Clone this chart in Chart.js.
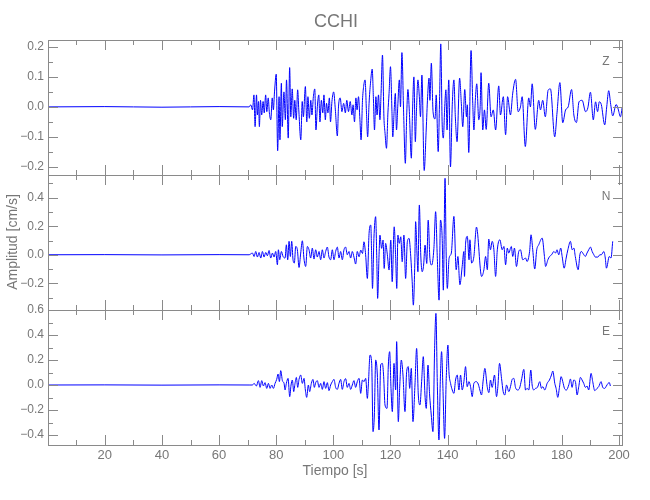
<!DOCTYPE html>
<html>
<head>
<meta charset="utf-8">
<script src="https://cdn.jsdelivr.net/npm/chart.js@4.4.0/dist/chart.umd.min.js"></script>
<style>
  html, body { margin: 0; padding: 0; background: #fff; }
  #wrap { position: relative; width: 650px; height: 500px; }
  #wrap canvas { position: absolute; left: 0; top: 0; }
</style>
</head>
<body>
<div id="wrap">
  <canvas id="pz" width="650" height="500"></canvas>
  <canvas id="pn" width="650" height="500"></canvas>
  <canvas id="pe" width="650" height="500"></canvas>
</div>
<script>
// axis ticks
const xMajor = [20, 40, 60, 80, 100, 120, 140, 160, 180, 200];
const zTicks = [-0.2, -0.1, 0, 0.1, 0.2];
const nTicks = [-0.2, 0, 0.2, 0.4];
const eTicks = [-0.4, -0.2, 0, 0.2, 0.4, 0.6];

// component Z (time s, amplitude cm/s)
const zTime = [0.1, 20, 40, 60, 70.5, 71.1, 71.7, 72.2, 72.6, 73.1, 73.4, 73.8, 74.1, 74.5, 74.9, 75.4, 75.8, 76.3, 76.7, 77.2, 77.6, 78.1, 78.6, 79.0, 79.4, 80.0, 80.5, 81.0, 81.3, 81.8, 82.1, 82.7, 83.2, 83.6, 84.2, 84.7, 85.1, 85.6, 86.1, 86.5, 87.0, 87.5, 87.9, 88.6, 89.1, 89.5, 90.2, 90.7, 91.1, 91.6, 92.1, 92.5, 93.0, 93.5, 93.9, 94.4, 94.9, 95.3, 95.8, 96.3, 96.7, 97.2, 97.6, 98.1, 98.6, 99.0, 99.5, 100.1, 100.7, 101.4, 101.8, 102.4, 103.0, 103.6, 104.2, 104.7, 105.3, 105.9, 106.5, 106.9, 107.4, 107.9, 108.3, 108.8, 109.3, 109.7, 110.2, 110.6, 111.1, 111.6, 112.0, 112.5, 113.0, 113.6, 114.0, 114.4, 114.9, 115.3, 115.8, 116.3, 116.7, 117.2, 117.7, 118.1, 118.6, 119.1, 119.5, 120.0, 120.5, 120.8, 121.3, 121.7, 122.1, 122.6, 123.1, 123.5, 124.0, 124.6, 125.2, 125.7, 126.1, 126.6, 127.3, 127.7, 128.2, 128.7, 129.1, 129.6, 130.1, 130.5, 131.0, 131.8, 132.5, 133.0, 133.5, 133.8, 134.3, 134.9, 135.6, 136.0, 136.7, 137.2, 137.6, 138.1, 138.5, 139.0, 139.4, 139.8, 140.4, 141.0, 141.6, 142.2, 142.7, 143.3, 144.2, 144.8, 145.3, 146.0, 146.6, 146.9, 147.4, 148.2, 148.8, 149.2, 149.7, 150.2, 150.9, 151.4, 151.7, 152.3, 152.9, 153.5, 154.4, 155.2, 156.0, 156.8, 157.9, 158.5, 159.5, 160.3, 161.0, 162.0, 162.8, 163.8, 164.7, 165.5, 166.1, 167.2, 168.4, 169.0, 169.6, 170.7, 171.9, 172.5, 173.3, 174.2, 175.2, 176.0, 177.5, 178.3, 179.3, 180.3, 181.3, 182.2, 183.4, 184.2, 185.1, 186.0, 187.1, 188.3, 189.1, 190.0, 191.0, 191.8, 192.5, 193.1, 193.8, 195.0, 195.7, 196.4, 197.1, 197.8, 199.0, 199.7, 200.5, 201.1];
const zAmp = [0, 0.001, -0.001, 0.001, 0, 0.007, -0.01, 0.04, -0.066, 0.04, -0.027, 0.018, -0.066, 0.022, -0.027, 0.018, -0.02, 0.04, -0.016, 0.03, -0.02, -0.043, 0.03, -0.01, 0.05, 0.109, -0.146, 0.034, -0.11, 0.079, -0.066, 0.05, -0.043, 0.09, -0.104, 0.131, -0.033, 0.06, -0.038, 0.022, -0.043, 0.057, -0.01, -0.11, 0.018, -0.033, 0.068, -0.05, 0.034, -0.038, 0.022, -0.027, 0.034, 0.06, -0.077, 0.002, 0.04, -0.05, 0.022, -0.02, 0.04, -0.043, 0.012, -0.02, 0.03, -0.05, 0.018, 0.05, -0.01, -0.097, 0, 0.03, -0.016, 0.012, -0.02, 0.022, -0.016, 0.018, -0.027, 0.007, -0.05, 0.03, -0.01, 0.034, -0.043, -0.11, 0.022, 0.068, 0.09, -0.02, -0.1, 0.012, 0.079, 0.126, 0.034, -0.077, 0.034, -0.027, 0.04, -0.043, 0.045, 0.173, -0.033, -0.088, -0.138, -0.02, 0.045, 0.134, -0.01, -0.1, -0.01, 0.045, -0.077, 0.012, 0.09, 0, 0.181, -0.02, -0.188, -0.02, 0.058, -0.016, -0.171, -0.02, 0.1, -0.116, -0.01, 0.09, 0.034, -0.033, 0.106, -0.212, -0.077, 0.034, 0.096, 0.022, 0.146, -0.016, -0.04, 0.04, -0.149, 0.034, 0.21, -0.06, -0.104, 0.002, 0.057, -0.077, 0.09, -0.2, 0, 0.09, -0.033, -0.116, 0.096, 0.012, -0.066, 0.058, -0.033, 0.007, -0.152, 0.188, 0.012, -0.077, 0.022, 0.077, -0.043, 0.002, 0.114, -0.077, -0.01, -0.075, 0.079, -0.033, -0.01, -0.077, 0.07, -0.027, 0.034, -0.093, 0.034, -0.027, 0.046, 0.092, -0.016, 0, 0.034, -0.132, 0.03, 0, 0.077, -0.075, 0.022, -0.01, 0.022, -0.033, 0.056, 0.06, -0.1, -0.02, 0.081, -0.053, -0.01, 0, 0.058, -0.027, -0.052, 0.017, 0.022, -0.016, -0.003, 0.049, -0.043, 0.017, -0.016, 0.017, 0.008, -0.06, 0, 0.054, 0.008, -0.03, 0.008, -0.007, -0.033, -0.003];

// component N
const nTime = [0.1, 20, 40, 60, 70.5, 71.67, 72.25, 72.83, 73.41, 74.0, 74.58, 75.16, 75.74, 76.33, 76.91, 77.49, 78.08, 78.66, 79.24, 79.82, 80.41, 80.76, 81.22, 81.81, 82.39, 83.09, 83.55, 84.02, 84.49, 84.95, 85.42, 85.88, 86.35, 86.82, 87.4, 87.98, 88.57, 89.15, 89.73, 90.31, 90.9, 91.48, 92.06, 92.64, 93.23, 93.81, 94.39, 94.98, 95.56, 96.14, 96.72, 97.31, 97.89, 98.47, 99.05, 99.64, 100.22, 100.8, 101.39, 101.97, 102.55, 103.13, 103.72, 104.3, 104.88, 105.47, 106.05, 106.63, 107.21, 107.8, 108.38, 109.0, 109.6, 110.2, 110.7, 111.3, 111.9, 112.5, 113.1, 113.4, 113.7, 114.2, 114.8, 115.2, 115.5, 116.0, 116.3, 116.9, 117.4, 117.8, 118.3, 118.9, 119.5, 120.1, 120.6, 121.3, 121.8, 122.2, 122.6, 123.1, 123.6, 124.1, 124.7, 125.3, 125.9, 126.5, 127.1, 127.6, 128.0, 128.5, 128.8, 129.3, 129.6, 130.1, 130.6, 131.1, 131.6, 132.1, 132.7, 133.2, 133.8, 134.4, 135.2, 135.8, 136.4, 137.0, 137.5, 138.1, 138.5, 139.1, 139.5, 139.9, 140.5, 141.3, 142.2, 143.0, 143.6, 144.3, 145.1, 145.7, 145.9, 146.3, 146.9, 147.5, 147.8, 148.4, 149.2, 150.1, 151.9, 152.7, 153.3, 153.9, 154.4, 155.0, 155.6, 156.2, 156.8, 157.4, 158.3, 159.1, 159.7, 160.3, 160.9, 161.4, 162.3, 162.8, 163.4, 164.1, 164.9, 165.5, 166.3, 167.3, 167.8, 168.7, 169.2, 169.8, 170.5, 171.2, 171.9, 173.1, 173.9, 174.3, 175.1, 175.7, 176.4, 177.2, 177.8, 178.3, 178.9, 179.6, 180.1, 180.8, 181.5, 182.1, 183.0, 183.6, 184.2, 184.7, 185.7, 186.3, 186.8, 187.7, 188.2, 188.8, 189.4, 190.0, 190.6, 191.2, 191.7, 192.6, 193.3, 193.8, 194.7, 195.2, 195.6, 196.6, 197.2, 197.8];
const nAmp = [0, 0.001, -0.001, 0.001, 0, 0.012, -0.012, 0.023, -0.016, 0.016, -0.023, 0.023, -0.016, 0.016, -0.007, 0.03, -0.023, 0.012, -0.016, 0.023, -0.07, 0.035, -0.035, 0.023, -0.012, -0.023, 0.07, -0.035, 0.094, -0.012, 0.094, -0.035, -0.058, 0.058, 0.035, -0.089, 0.012, 0.098, -0.03, -0.082, 0.058, 0.035, -0.023, 0.047, -0.03, 0.035, -0.016, 0.023, -0.035, 0.035, -0.023, 0.023, 0.054, -0.016, -0.035, 0.035, -0.035, 0.023, 0.054, -0.023, 0.023, -0.035, 0.035, 0.054, 0, 0.023, -0.023, 0.023, -0.016, -0.065, 0.023, -0.014, 0.033, 0.009, 0.091, 0, -0.166, 0.15, 0.208, 0, -0.236, 0.115, 0.267, -0.026, -0.306, 0, 0.138, 0.045, 0.103, -0.096, 0.08, 0, -0.107, 0.103, -0.189, 0.196, -0.014, -0.236, 0.138, 0.08, 0.126, -0.049, 0.138, -0.166, 0.091, 0.115, -0.014, -0.189, -0.353, -0.072, 0.232, -0.002, -0.119, 0.349, -0.002, -0.119, -0.072, 0.068, -0.061, 0.243, -0.026, -0.072, 0.045, 0.302, -0.026, -0.318, 0.243, 0.115, -0.248, 0.536, -0.002, -0.236, -0.026, 0.012, 0.269, -0.105, -0.012, -0.21, -0.082, 0.023, -0.152, 0.082, 0.129, -0.035, 0.105, -0.058, -0.012, 0.194, -0.152, -0.105, -0.012, -0.105, 0.11, 0.035, 0.094, 0.035, -0.152, 0.035, 0.105, 0.035, 0.058, -0.07, 0.047, 0.012, 0.058, -0.012, 0.047, -0.082, 0.023, 0.035, -0.035, -0.023, -0.047, 0.023, 0.14, 0.035, -0.1, 0.035, 0.07, 0.117, -0.012, -0.082, -0.035, -0.012, 0, 0.023, 0.012, 0.035, 0, 0.047, -0.012, -0.094, -0.023, 0.035, 0.094, 0.035, 0.047, -0.012, -0.105, 0, 0.023, 0, -0.012, 0.012, 0.035, 0.054, 0.023, 0, -0.016, -0.016, 0, 0, 0.023, -0.023, -0.094, -0.012, -0.023, 0.094];

// component E
const eTime = [0.1, 20, 40, 60, 70.5, 71.67, 72.25, 73.06, 73.76, 74.35, 74.93, 75.51, 76.09, 76.68, 77.26, 77.84, 78.43, 79.01, 79.59, 80.17, 80.64, 81.11, 81.57, 82.16, 82.74, 83.09, 83.55, 84.14, 84.72, 85.19, 85.65, 86.12, 86.58, 87.05, 87.52, 87.98, 88.57, 89.15, 89.73, 90.2, 90.66, 91.25, 91.71, 92.29, 92.88, 93.34, 93.81, 94.39, 94.98, 95.56, 96.14, 96.72, 97.31, 97.89, 98.47, 99.05, 99.64, 100.22, 100.8, 101.39, 101.97, 102.55, 103.13, 103.72, 104.3, 104.88, 105.47, 106.05, 106.63, 107.21, 107.8, 108.38, 109.0, 109.57, 110.16, 110.74, 111.32, 111.9, 112.25, 112.84, 113.42, 113.89, 114.35, 114.82, 115.4, 115.98, 116.57, 117.15, 117.61, 118.08, 118.78, 119.25, 119.71, 120.18, 120.64, 121.23, 121.81, 122.16, 122.74, 123.21, 123.79, 124.37, 125.07, 125.66, 126.24, 126.71, 127.29, 127.87, 128.57, 129.15, 129.74, 130.32, 130.9, 131.48, 132.07, 132.53, 133.12, 133.7, 134.28, 134.86, 135.45, 135.91, 136.38, 136.96, 137.43, 137.89, 138.36, 138.94, 139.52, 140.11, 140.46, 141.04, 141.62, 142.2, 142.78, 143.37, 143.95, 144.53, 145.11, 145.7, 146.28, 146.86, 147.45, 148.03, 148.61, 149.19, 150.01, 150.71, 151.29, 151.87, 152.46, 153.04, 153.86, 154.44, 155.02, 155.6, 156.42, 157.12, 157.59, 158.17, 158.87, 159.45, 160.03, 160.62, 161.43, 162.01, 162.6, 163.18, 163.76, 164.46, 165.16, 165.86, 166.68, 167.26, 167.84, 168.42, 169.12, 169.59, 170.17, 170.76, 171.45, 172.27, 172.85, 173.32, 174.02, 174.84, 175.65, 176.35, 176.82, 177.52, 177.98, 178.57, 179.15, 179.73, 180.31, 180.9, 181.6, 182.41, 182.99, 183.58, 184.16, 184.74, 185.33, 185.91, 186.49, 187.07, 187.66, 188.24, 188.82, 189.4, 190.22, 190.8, 191.5, 192.32, 192.9, 193.72, 194.3, 195.0, 195.58, 196.16, 196.63, 196.98];
const eAmp = [0, 0.001, -0.001, 0.001, 0, 0, 0.013, -0.008, 0.035, -0.019, 0.035, -0.008, 0.019, -0.027, 0.013, -0.027, 0, -0.027, 0.013, 0.045, 0.088, 0.027, 0.115, 0.035, 0.013, -0.04, 0.013, 0.053, -0.093, 0, 0.04, -0.053, 0.013, 0.061, -0.019, 0.045, 0.08, 0.013, 0.053, -0.04, -0.099, 0, -0.053, 0.013, 0.045, -0.019, 0.019, 0.035, -0.019, 0.013, -0.035, 0.027, -0.027, 0.019, -0.045, 0, 0.027, 0.045, -0.019, -0.035, 0.013, 0.045, -0.035, 0.027, 0.051, -0.019, 0.013, -0.035, 0, 0.035, -0.019, 0.027, 0.053, -0.067, 0.04, 0.027, 0.053, -0.107, 0, 0.24, 0.173, -0.373, -0.24, 0.2, 0.08, -0.36, 0.16, 0.173, 0.067, -0.16, -0.187, 0.16, 0.267, -0.027, -0.213, 0.173, -0.04, 0.347, -0.293, -0.027, 0.2, 0.08, -0.213, 0.107, 0.147, -0.027, 0.133, -0.293, 0, 0.293, -0.08, -0.16, 0.027, 0.227, -0.08, -0.187, 0.16, -0.08, -0.24, -0.373, 0.293, 0.573, 0.027, -0.44, 0.027, 0.267, -0.027, -0.427, 0.053, 0.32, 0.107, 0.013, -0.04, -0.067, 0.04, 0.08, -0.04, 0.08, -0.04, 0.027, 0.147, -0.013, 0.027, -0.013, -0.093, 0.013, 0.027, 0.008, -0.04, -0.08, 0.04, 0.133, -0.013, -0.061, 0.04, -0.019, 0.08, -0.093, -0.013, 0.173, 0.053, -0.053, -0.08, 0, -0.053, -0.013, 0.045, 0.053, -0.019, -0.04, -0.027, 0.04, 0.125, -0.04, -0.027, -0.04, 0.12, 0, -0.04, -0.027, -0.019, 0.027, -0.027, -0.013, -0.04, 0.013, 0.04, 0.08, 0.112, 0.013, -0.027, -0.099, -0.019, 0.067, 0.027, -0.027, -0.04, 0, 0.048, -0.019, 0.04, 0.027, -0.08, -0.013, 0.061, 0.04, 0.013, -0.019, -0.008, -0.04, 0.093, 0.027, -0.045, -0.027, -0.013, 0.027, -0.019, -0.027, -0.008, 0.013, 0.019, -0.008];

const AXIS = '#8a8a8a';
const TEXT = '#777777';
const FONT = '"Liberation Sans Narrow", "Liberation Sans", sans-serif';
const X_MIN = 0.1, X_MAX = 201.4;
const LEFT = 48, RIGHT = 623, BOTTOM_AXIS = 55;

const fmt = v => (Math.abs(v) < 1e-9 ? '0.0' : v.toFixed(1).replace('-', '\u2212'));

// frame, inward ticks (major + minor) and free text
const frame = {
  id: 'frame',
  afterDraw(chart, args, o) {
    const { ctx, chartArea: a } = chart;
    const x = chart.scales.x, y = chart.scales.y;
    ctx.save();
    ctx.strokeStyle = AXIS;
    ctx.lineWidth = 1;
    ctx.strokeRect(a.left + 0.5, a.top + 0.5, a.right - a.left - 1, a.bottom - a.top);

    const vline = (px, y0, y1) => { ctx.moveTo(Math.round(px) + 0.5, y0); ctx.lineTo(Math.round(px) + 0.5, y1); };
    const hline = (py, x0, x1) => { ctx.moveTo(x0, Math.round(py) + 0.5); ctx.lineTo(x1, Math.round(py) + 0.5); };
    ctx.beginPath();
    xMajor.forEach(v => {
      const px = x.getPixelForValue(v);
      vline(px, a.top, a.top + 10); vline(px, a.bottom, a.bottom - 10);
      const pm = x.getPixelForValue(v - 10);
      vline(pm, a.top, a.top + 5); vline(pm, a.bottom, a.bottom - 5);
    });
    const t = o.ticks, step = t[1] - t[0];
    const minor = [t[0] - step / 2, ...t.map(v => v + step / 2)].filter(v => v > y.min && v < y.max);
    t.forEach(v => {
      const py = y.getPixelForValue(v);
      hline(py, a.left, a.left + 10); hline(py, a.right, a.right - 10);
    });
    minor.forEach(v => {
      const py = y.getPixelForValue(v);
      hline(py, a.left, a.left + 5); hline(py, a.right, a.right - 5);
    });
    ctx.stroke();

    ctx.fillStyle = TEXT;
    ctx.textAlign = 'center';
    ctx.textBaseline = 'middle';
    ctx.font = '12px ' + FONT;
    ctx.fillText(o.letter, a.right - 17, a.top + 22);
    (o.texts || []).forEach(s => {
      ctx.save();
      ctx.font = s.size + 'px ' + FONT;
      ctx.translate(s.x, s.y);
      if (s.rot) ctx.rotate(s.rot);
      ctx.fillText(s.text, 0, 0);
      ctx.restore();
    });
    ctx.restore();
  }
};

function panel(id, time, amp, yMin, yMax, yTicks, top, bottom, letter, showX, texts) {
  return new Chart(document.getElementById(id), {
    type: 'line',
    data: {
      datasets: [{
        data: time.map((t, i) => ({ x: t, y: amp[i] })),
        borderColor: '#0000ff',
        borderWidth: 1,
        pointRadius: 0,
        cubicInterpolationMode: 'monotone',
        fill: false
      }]
    },
    options: {
      responsive: false,
      animation: false,
      devicePixelRatio: 1,
      events: [],
      layout: { padding: { left: 0, right: 650 - RIGHT, top: top, bottom: showX ? 0 : 500 - bottom } },
      plugins: {
        legend: { display: false },
        tooltip: { enabled: false },
        frame: { ticks: yTicks, letter: letter, texts: texts }
      },
      scales: {
        x: {
          type: 'linear', min: X_MIN, max: X_MAX,
          display: showX,
          afterBuildTicks: s => { s.ticks = xMajor.map(v => ({ value: v })); },
          afterFit: s => { s.height = showX ? BOTTOM_AXIS : 0; },
          grid: { display: false, drawTicks: false },
          border: { display: false },
          ticks: { autoSkip: false, maxRotation: 0, padding: 3, color: TEXT, font: { family: FONT, size: 13 } }
        },
        y: {
          type: 'linear', min: yMin, max: yMax,
          afterBuildTicks: s => { s.ticks = yTicks.map(v => ({ value: v })); },
          afterFit: s => { s.width = LEFT; },
          grid: { display: false, drawTicks: false },
          border: { display: false },
          ticks: { autoSkip: false, padding: 4, color: TEXT, font: { family: FONT, size: 12 }, callback: v => fmt(v) }
        }
      }
    },
    plugins: [frame]
  });
}

panel('pz', zTime, zAmp, -0.227, 0.223, zTicks, 40, 175, 'Z', false,
  [{ text: 'CCHI', x: 336, y: 22, size: 18 }]);
panel('pn', nTime, nAmp, -0.387, 0.559, nTicks, 175, 310, 'N', false,
  [{ text: 'Amplitud [cm/s]', x: 13, y: 242, size: 14, rot: -Math.PI / 2 }]);
panel('pe', eTime, eAmp, -0.48, 0.6, eTicks, 310, 445, 'E', true,
  [{ text: 'Tiempo [s]', x: 335, y: 471, size: 14 }]);
</script>
</body>
</html>
